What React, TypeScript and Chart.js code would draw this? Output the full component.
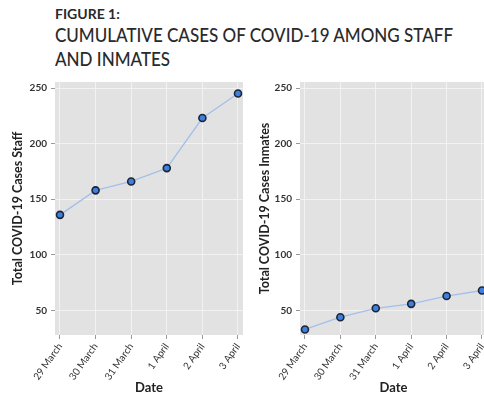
import React, { useEffect, useRef } from "react";
import { Chart, registerables } from "chart.js";

Chart.register(...registerables);

const dates = ["29 March", "30 March", "31 March", "1 April", "2 April", "3 April"];
const staffCases = [136, 158, 166, 178, 223, 245];
const inmateCases = [33, 44, 52, 56, 63, 68];
const yTicks = [50, 100, 150, 200, 250];

const FONT = "Lato, 'Open Sans', sans-serif";

const panelBg = {
  id: "panelBg",
  beforeDraw(chart: any) {
    const { ctx, chartArea } = chart;
    const { left, top, right, bottom } = chartArea;
    ctx.save();
    ctx.fillStyle = "#e2e2e2";
    ctx.fillRect(left, top, right - left, bottom - top);
    ctx.restore();
  },
};

type PanelProps = {
  values: number[];
  yLabel: string;
  left: number;
  width: number;
  axisWidth: number;
  titlePad: number;
};

function Panel({ values, yLabel, left, width, axisWidth, titlePad }: PanelProps) {
  const ref = useRef<HTMLCanvasElement | null>(null);
  const height = 331;
  useEffect(() => {
    if (!ref.current) return;
    const chart = new Chart(ref.current, {
      type: "line",
      data: {
        datasets: [
          {
            data: values.map((y, i) => ({ x: i, y })),
            borderColor: "#a3c0ea",
            borderWidth: 1.3,
            pointRadius: 3.5,
            pointBorderWidth: 1.6,
            pointBackgroundColor: "#3f7fe0",
            pointBorderColor: "#1b2535",
            tension: 0,
          },
        ],
      },
      options: {
        animation: false,
        responsive: false,
        maintainAspectRatio: false,
        devicePixelRatio: 1,
        layout: { padding: { top: 12, right: 7, bottom: 0, left: 0 } },
        plugins: { legend: { display: false }, tooltip: { enabled: false } },
        scales: {
          x: {
            type: "linear",
            min: -0.14,
            max: 5.14,
            afterBuildTicks: (s: any) => {
              s.ticks = dates.map((_, i) => ({ value: i }));
            },
            afterFit: (s: any) => {
              s.height = 66;
            },
            ticks: {
              minRotation: 55,
              maxRotation: 55,
              autoSkip: false,
              callback: (v: any) => dates[v as number] ?? "",
              font: { family: FONT, size: 10 },
              color: "#333",
              padding: 2,
            },
            grid: { color: "#f2f2f2", tickColor: "#999", tickLength: 4, lineWidth: 1 },
            border: { display: false },
            title: {
              display: true,
              text: "Date",
              font: { family: FONT, size: 13, weight: "bold" },
              color: "#222",
              padding: { top: 0, bottom: 5 },
            },
          },
          y: {
            type: "linear",
            min: 28,
            max: 255.4,
            afterBuildTicks: (s: any) => {
              s.ticks = yTicks.map((v) => ({ value: v }));
            },
            afterFit: (s: any) => {
              s.width = axisWidth;
            },
            ticks: {
              font: { family: FONT, size: 10, weight: "bold" },
              color: "#333",
              padding: 4,
            },
            grid: { color: "#f2f2f2", tickColor: "#999", tickLength: 4, lineWidth: 1 },
            border: { display: false },
            title: {
              display: true,
              text: yLabel,
              font: { family: FONT, size: 12.5, weight: "bold" },
              color: "#222",
              padding: { top: titlePad, bottom: 0 },
            },
          },
        },
      },
      plugins: [panelBg],
    } as any);
    return () => chart.destroy();
  }, []);
  return (
    <canvas
      ref={ref}
      width={width}
      height={height}
      style={{ position: "absolute", left, top: 70, width, height }}
    />
  );
}

export default function App() {
  const line1 = useRef<HTMLSpanElement | null>(null);
  const block = useRef<HTMLDivElement | null>(null);
  useEffect(() => {
    if (line1.current && block.current) {
      const w = line1.current.getBoundingClientRect().width;
      if (w > 0) {
        block.current.style.transform = `scaleX(${398 / w})`;
      }
    }
  }, []);
  return (
    <div
      style={{
        position: "fixed",
        left: 0,
        top: 0,
        width: 484,
        height: 401,
        overflow: "hidden",
        background: "#fff",
        fontFamily: FONT,
        color: "#2a2a2a",
      }}
    >
      <div
        style={{
          position: "absolute",
          left: 55,
          top: 6,
          fontSize: 14,
          fontWeight: 700,
          lineHeight: "16px",
          whiteSpace: "nowrap",
        }}
      >
        FIGURE 1:
      </div>
      <div
        ref={block}
        style={{
          position: "absolute",
          left: 55,
          top: 23,
          fontSize: 18.5,
          fontWeight: 500,
          lineHeight: "24px",
          whiteSpace: "nowrap",
          transformOrigin: "0 0",
        }}
      >
        <span ref={line1}>CUMULATIVE CASES OF COVID-19 AMONG STAFF</span>
        <br />
        <span>AND INMATES</span>
      </div>
      <Panel values={staffCases} yLabel="Total COVID-19 Cases Staff" left={0} width={250} axisWidth={55} titlePad={10} />
      <Panel values={inmateCases} yLabel="Total COVID-19 Cases Inmates" left={247} width={247} axisWidth={53} titlePad={10.5} />
    </div>
  );
}
